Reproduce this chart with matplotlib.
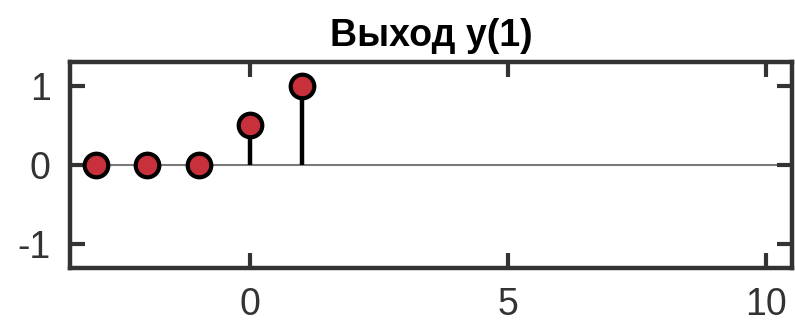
import matplotlib
matplotlib.use("Agg")
import matplotlib.pyplot as plt

plt.rcParams['font.family'] = ['Liberation Sans', 'DejaVu Sans']
plt.rcParams['axes.unicode_minus'] = False

# отсчёты выходного сигнала
n = [-3, -2, -1, 0, 1]
y = [0, 0, 0, 0.5, 1]
xticks = [0, 5, 10]
yticks = [-1, 0, 1]

fig = plt.figure(figsize=(7.95, 3.25), dpi=100)
ax = fig.add_axes([0.088, 0.176, 0.908, 0.634])

ax.axhline(0, color='#7a7a7a', lw=1.5, zorder=1)
ml, sl, bl = ax.stem(n, y, basefmt=' ')
plt.setp(sl, color='black', lw=3.2)
plt.setp(ml, marker='o', markersize=17, markerfacecolor='#c8303c',
         markeredgecolor='black', markeredgewidth=3, zorder=3)

ax.set_xlim(-3.5, 10.5)
ax.set_ylim(-1.3, 1.3)
ax.set_xticks(xticks)
ax.set_yticks(yticks)
ax.tick_params(direction='in', length=11, width=3, colors='#333333',
               labelsize=27, top=True, right=True, pad=14)
for s in ax.spines.values():
    s.set_linewidth(3.2)
    s.set_color('#333333')

ax.set_title('Выход y(1)', fontsize=27, fontweight='bold', pad=11)

fig.savefig('out.png', dpi=100)
